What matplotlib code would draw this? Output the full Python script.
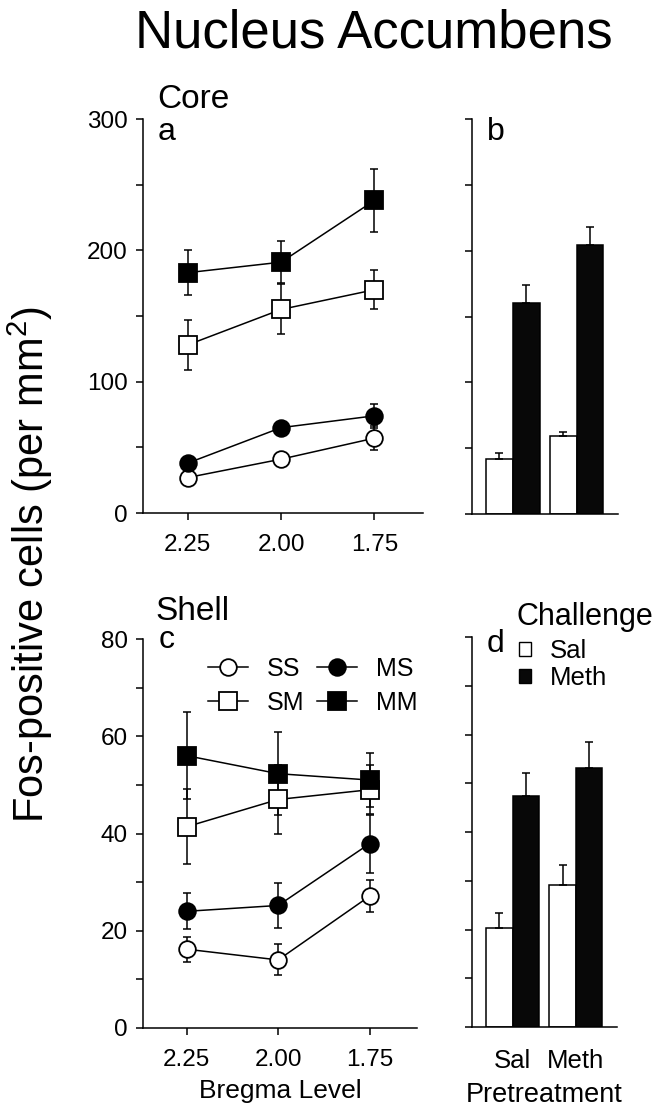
import numpy as np
import matplotlib
matplotlib.use('Agg')
import matplotlib.pyplot as plt
from matplotlib.patches import Patch

plt.rcParams['font.family'] = ['Liberation Sans', 'DejaVu Sans']
plt.rcParams['mathtext.default'] = 'regular'

# bregma levels (line panels)
levels = ['2.25', '2.00', '1.75']
groups = ['SS', 'SM', 'MS', 'MM']

# Core (panel a): mean and SEM per group
core_mean = {'SS': [27, 41, 57], 'MS': [38, 65, 74],
             'SM': [128, 155, 170], 'MM': [183, 191, 238]}
core_err = {'SS': [3, 4, 9], 'MS': [3, 4, 9],
            'SM': [19, 19, 15], 'MM': [17, 16, 24]}

# Shell (panel c)
shell_mean = {'SS': [16.2, 14.0, 27.1], 'MS': [24.0, 25.2, 37.9],
              'SM': [41.4, 47.0, 49.0], 'MM': [56.0, 52.3, 51.0]}
shell_err = {'SS': [2.6, 3.2, 3.3], 'MS': [3.7, 4.6, 6.0],
             'SM': [7.7, 7.0, 5.0], 'MM': [9.0, 8.5, 5.6]}

# collapsed bars (panels b, d): pretreatment x challenge
pretreat = ['Sal', 'Meth']
core_sal = [42, 59]
core_sal_err = [4.5, 3.5]
core_meth = [160, 204]
core_meth_err = [14, 14]
shell_sal = [20.4, 29.1]
shell_sal_err = [2.9, 4.1]
shell_meth = [47.3, 53.2]
shell_meth_err = [4.9, 5.2]

W, H = 665, 1115
fig = plt.figure(figsize=(W / 100, H / 100), dpi=100)


def px_axes(x0, y0, x1, y1):
    return fig.add_axes([x0 / W, 1 - y1 / H, (x1 - x0) / W, (y1 - y0) / H])


def ftext(x, y, s, **kw):
    fig.text(x / W, 1 - y / H, s, va='baseline', ha='left', **kw)


style = {'SS': dict(marker='o', mfc='white', ms=12),
         'MS': dict(marker='o', mfc='black', ms=12),
         'SM': dict(marker='s', mfc='white', ms=13),
         'MM': dict(marker='s', mfc='black', ms=13)}


def setup(ax, lw=1.1):
    for s in ['top', 'right']:
        ax.spines[s].set_visible(False)
    for s in ['left', 'bottom']:
        ax.spines[s].set_linewidth(lw)
    ax.tick_params(direction='out', length=5, width=lw, labelsize=17.5, pad=6)


def line_panel(ax, mean, err):
    x = np.arange(len(levels))
    handles = {}
    for g in groups:
        ax.errorbar(x, mean[g], yerr=err[g], fmt='none', ecolor='black',
                    elinewidth=1.1, capsize=3, capthick=1.1, zorder=2)
        h, = ax.plot(x, mean[g], color='black', lw=1.1, mec='black',
                     mew=1.3, zorder=3, clip_on=False, **style[g])
        handles[g] = h
    ax.set_xticks(x)
    ax.set_xticklabels(levels)
    ax.set_xlim(-0.48, 2.52)
    setup(ax)
    ax.tick_params(axis='x', pad=10)
    return handles


def bar_panel(ax, sal, sal_err, meth, meth_err):
    x = np.arange(len(pretreat))
    w = 0.42
    ax.bar(x - w / 2, sal, w, yerr=sal_err, color='white', edgecolor='black',
           linewidth=1.1, capsize=3, error_kw=dict(elinewidth=1.1, capthick=1.1),
           label='Sal')
    ax.bar(x + w / 2, meth, w, yerr=meth_err, color='#080808', edgecolor='black',
           linewidth=1.1, capsize=3, error_kw=dict(elinewidth=1.1, capthick=1.1),
           label='Meth')
    ax.set_xlim(-0.64, 1.65)
    setup(ax)
    ax.tick_params(axis='x', length=0, pad=16, labelsize=18.5)
    ax.set_xticks(x)
    return x


# panel a
ax_a = px_axes(143, 119, 423, 513)
line_panel(ax_a, core_mean, core_err)
ax_a.set_ylim(0, 300)
ax_a.set_yticks(np.arange(0, 301, 50))
ax_a.set_yticklabels([str(v) if v % 100 == 0 else '' for v in range(0, 301, 50)])

# panel b (upper error bars only)
ax_b = px_axes(472, 119, 618, 514)
bar_panel(ax_b, core_sal, [[0, 0], core_sal_err], core_meth, [[0, 0], core_meth_err])
ax_b.set_ylim(0, 300)
ax_b.set_yticks(np.arange(0, 301, 50))
ax_b.set_yticklabels([])
ax_b.set_xticklabels([])

# panel c
ax_c = px_axes(143, 639, 417, 1028)
hs = line_panel(ax_c, shell_mean, shell_err)
ax_c.set_ylim(0, 80)
ax_c.set_yticks(np.arange(0, 81, 10))
ax_c.set_yticklabels([str(v) if v % 20 == 0 else '' for v in range(0, 81, 10)])
ax_c.set_xlabel('Bregma Level', fontsize=19, labelpad=6)
ax_c.legend([hs['SS'], hs['SM'], hs['MS'], hs['MM']], ['SS', 'SM', 'MS', 'MM'],
            ncol=2, frameon=False, fontsize=18, loc='upper left',
            bbox_to_anchor=(0.237, 0.955), borderpad=0, borderaxespad=0,
            handlelength=1.6, handletextpad=0.76, columnspacing=0.5,
            labelspacing=0.4)

# panel d
ax_d = px_axes(472, 637, 617, 1027)
bar_panel(ax_d, shell_sal, [[0, 0], shell_sal_err], shell_meth, [[0, 0], shell_meth_err])
ax_d.set_ylim(0, 80)
ax_d.set_yticks(np.arange(0, 81, 10))
ax_d.set_yticklabels([])
ax_d.set_xticklabels(pretreat)
ax_d.set_xlabel('Pretreatment', fontsize=19.5, labelpad=6)
ax_d.legend(handles=[Patch(facecolor='white', edgecolor='black', lw=1.0),
                     Patch(facecolor='#080808', edgecolor='black', lw=1.0)],
            labels=['Sal', 'Meth'], fontsize=18.5, frameon=False,
            loc='upper left', bbox_to_anchor=(0.325, 0.995), borderpad=0,
            borderaxespad=0, handlelength=0.45, handleheight=0.45,
            handletextpad=0.75, labelspacing=0.12)

# texts
fig.text(374 / W, 1 - 47 / H, 'Nucleus Accumbens', fontsize=38,
         ha='center', va='baseline')
fig.text(30 / W, 1 - 565 / H, 'Fos-positive cells (per mm$^2$)', fontsize=30,
         rotation=90, ha='center', va='center')
ftext(157, 108, 'Core', fontsize=24)
ftext(158, 140, 'a', fontsize=23)
ftext(487, 140, 'b', fontsize=23)
ftext(155, 620, 'Shell', fontsize=24)
ftext(159, 648, 'c', fontsize=23)
ftext(487, 652, 'd', fontsize=23)
ftext(517, 625, 'Challenge', fontsize=22)

plt.savefig('out.png', dpi=100)
